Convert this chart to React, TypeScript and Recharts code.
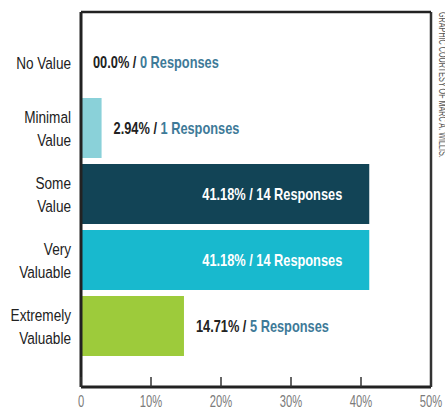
import React from "react";
import { BarChart, Bar, XAxis, YAxis, Cell, LabelList, ReferenceLine } from "recharts";

const categories = ["No Value", "Minimal Value", "Some Value", "Very Valuable", "Extremely Valuable"];
const percents = [0, 2.94, 41.18, 41.18, 14.71];
const percentLabels = ["00.0%", "2.94%", "41.18%", "41.18%", "14.71%"];
const responses = [0, 1, 14, 14, 5];
const barColors = ["#8ad1d9", "#8ad1d9", "#124456", "#18b9ce", "#9dcb3b"];
const xTicks = [0, 10, 20, 30, 40, 50];

const FONT = "'Liberation Sans', Arial, sans-serif";
// the original face is a condensed one, so squeeze the text horizontally
const SQUEEZE = 0.8;

const data = categories.map((name, i) => ({
  name,
  pct: percents[i],
  label: percentLabels[i],
  responses: responses[i],
}));

const CategoryTick = (props: any) => {
  const { x, y, payload } = props;
  const name = String(payload.value);
  const lines = name === "No Value" ? [name] : name.split(" ");
  const lh = 23;
  const start = -((lines.length - 1) * lh) / 2;
  return (
    <g transform={`translate(${x},${y}) scale(${SQUEEZE},1)`}>
      <text x={0} y={0} textAnchor="end" fill="#222" fontSize={17} fontFamily={FONT} dominantBaseline="central">
        {lines.map((l: string, i: number) => (
          <tspan key={i} x={0} dy={i === 0 ? start : lh}>
            {l}
          </tspan>
        ))}
      </text>
    </g>
  );
};

const PercentTick = (props: any) => {
  const { x, y, payload } = props;
  return (
    <g>
      <line x1={x} x2={x} y1={y - 10} y2={y} stroke="#333" strokeWidth={1.5} />
      <g transform={`translate(${x},${y + 20}) scale(0.7,1)`}>
        <text x={0} y={0} textAnchor="middle" fill="#7a7a7a" fontSize={16} fontFamily={FONT}>
          {payload.value === 0 ? "0" : `${payload.value}%`}
        </text>
      </g>
    </g>
  );
};

const ValueLabel = (props: any) => {
  const { x, y, width, height, value } = props;
  const row = data.find((d) => d.name === value);
  if (!row) return null;
  const cy = y + height / 2;
  if (row.pct > 30) {
    return (
      <g transform={`translate(${x + width - 27},${cy}) scale(${SQUEEZE},1)`}>
        <text x={0} y={0} textAnchor="end" dominantBaseline="central" fill="#fff" fontSize={16} fontWeight="bold" fontFamily={FONT}>
          {`${row.label} / ${row.responses} Responses`}
        </text>
      </g>
    );
  }
  return (
    <g transform={`translate(${x + width + 12},${cy}) scale(${SQUEEZE},1)`}>
      <text x={0} y={0} textAnchor="start" dominantBaseline="central" fontSize={16} fontWeight="bold" fontFamily={FONT}>
        <tspan fill="#222">{`${row.label} / `}</tspan>
        <tspan fill="#3e7a98">{`${row.responses} Responses`}</tspan>
      </text>
    </g>
  );
};

export default function App() {
  return (
    <div style={{ position: "absolute", left: 0, top: 0, width: 445, height: 407, background: "#fff", overflow: "hidden" }}>
      <BarChart
        width={445}
        height={407}
        data={data}
        layout="vertical"
        margin={{ top: 10, right: 14, bottom: 0, left: 0 }}
      >
        <XAxis
          type="number"
          domain={[0, 50]}
          ticks={xTicks}
          axisLine={{ stroke: "#222", strokeWidth: 3 }}
          tickLine={false}
          tickSize={0}
          tickMargin={0}
          tick={<PercentTick />}
          height={20}
          interval={0}
        />
        <XAxis
          xAxisId="top"
          orientation="top"
          type="number"
          domain={[0, 50]}
          axisLine={{ stroke: "#222", strokeWidth: 2.5 }}
          tick={false}
          tickLine={false}
          height={2}
        />
        <YAxis
          type="category"
          dataKey="name"
          width={81}
          axisLine={{ stroke: "#222", strokeWidth: 3 }}
          tickLine={false}
          tickMargin={4}
          tick={<CategoryTick />}
          padding={{ top: 17, bottom: 28 }}
          interval={0}
        />
        <ReferenceLine x={50} stroke="#333" strokeWidth={2.5} ifOverflow="extendDomain" />
        <Bar dataKey="pct" barSize={60} minPointSize={0.01} isAnimationActive={false}>
          {data.map((d, i) => (
            <Cell key={d.name} fill={barColors[i]} />
          ))}
          <LabelList dataKey="name" content={<ValueLabel />} />
        </Bar>
      </BarChart>
      <div
        style={{
          position: "absolute",
          left: 437,
          top: 12,
          writingMode: "vertical-rl",
          fontFamily: FONT,
          fontSize: 10,
          color: "#555",
          whiteSpace: "nowrap",
          lineHeight: 1,
          transform: "scaleY(0.72)",
          transformOrigin: "top left",
        }}
      >
        GRAPHIC COURTESY OF MARC A. WILLIS.
      </div>
    </div>
  );
}
